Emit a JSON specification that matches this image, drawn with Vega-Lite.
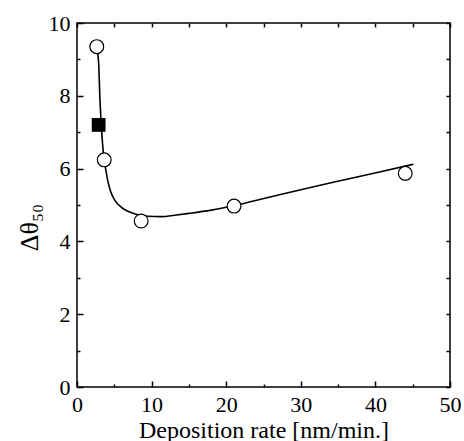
{
  "$schema": "https://vega.github.io/schema/vega-lite/v6.json",
  "autosize": {"type": "none"},
  "padding": {"left": 77, "top": 23, "right": 14, "bottom": 54},
  "width": 373,
  "height": 364,
  "background": "white",
  "config": {
    "view": {"stroke": "black", "strokeWidth": 1.5},
    "axis": {"labelFont": "Liberation Serif", "titleFont": "Liberation Serif", "labelColor": "black", "titleColor": "black", "tickColor": "black", "grid": false, "domain": false, "titleFontWeight": "normal", "tickWidth": 1.5}
  },
  "resolve": {"axis": {"x": "independent", "y": "independent"}},
  "layer": [
    {
      "data": {"values": [
        {"rate": 2.65, "d": 9.32}, {"rate": 2.9, "d": 8.9}, {"rate": 3.08, "d": 7.88}, {"rate": 3.35, "d": 6.9},
        {"rate": 3.66, "d": 6.2}, {"rate": 3.85, "d": 5.98}, {"rate": 4.1, "d": 5.69}, {"rate": 4.5, "d": 5.38},
        {"rate": 5.1, "d": 5.12}, {"rate": 6.0, "d": 4.93}, {"rate": 6.9, "d": 4.82}, {"rate": 8.2, "d": 4.73},
        {"rate": 9.5, "d": 4.69}, {"rate": 11.35, "d": 4.68}, {"rate": 13.1, "d": 4.72}, {"rate": 15, "d": 4.77},
        {"rate": 18, "d": 4.86}, {"rate": 21, "d": 4.98}, {"rate": 25.9, "d": 5.22}, {"rate": 30, "d": 5.42},
        {"rate": 34.2, "d": 5.62}, {"rate": 40.4, "d": 5.9}, {"rate": 45.1, "d": 6.12}
      ]},
      "mark": {"type": "line", "color": "black", "strokeWidth": 1.6, "interpolate": "monotone"},
      "encoding": {
        "x": {"field": "rate", "type": "quantitative", "scale": {"domain": [0, 50], "nice": false},
          "axis": {"orient": "bottom", "values": [0, 10, 20, 30, 40, 50], "tickSize": -6, "labelPadding": 13, "labelFontSize": 22, "title": "Deposition rate [nm/min.]", "titleFontSize": 24, "titleY": 50, "titleBaseline": "alphabetic", "labelFlush": false}},
        "y": {"field": "d", "type": "quantitative", "scale": {"domain": [0, 10], "nice": false},
          "axis": {"orient": "left", "values": [0, 2, 4, 6, 8, 10], "tickSize": -6, "labelPadding": 13, "labelFontSize": 22, "title": "Δθ₅₀", "titleFontSize": 26, "titlePadding": 6, "titleY": 204, "labelFlush": false}}
      }
    },
    {
      "data": {"values": [
        {"rate": 2.65, "d": 9.35}, {"rate": 3.65, "d": 6.24}, {"rate": 8.6, "d": 4.56}, {"rate": 21.05, "d": 4.97}, {"rate": 44.0, "d": 5.87}
      ]},
      "mark": {"type": "point", "shape": "circle", "filled": true, "fill": "white", "stroke": "black", "strokeWidth": 1.2, "size": 190, "opacity": 1},
      "encoding": {
        "x": {"field": "rate", "type": "quantitative", "scale": {"domain": [0, 50], "nice": false},
          "axis": {"orient": "bottom", "values": [5, 15, 25, 35, 45], "tickSize": -3, "labels": false, "title": null}},
        "y": {"field": "d", "type": "quantitative", "scale": {"domain": [0, 10], "nice": false},
          "axis": {"orient": "left", "values": [1, 3, 5, 7, 9], "tickSize": -3, "labels": false, "title": null}}
      }
    },
    {
      "data": {"values": [{"rate": 2.9, "d": 7.2}]},
      "mark": {"type": "square", "filled": true, "color": "black", "size": 190, "opacity": 1},
      "encoding": {
        "x": {"field": "rate", "type": "quantitative", "scale": {"domain": [0, 50], "nice": false},
          "axis": {"orient": "top", "values": [0, 5, 10, 15, 20, 25, 30, 35, 40, 45, 50], "tickSize": -4, "labels": false, "title": null}},
        "y": {"field": "d", "type": "quantitative", "scale": {"domain": [0, 10], "nice": false},
          "axis": {"orient": "right", "values": [0, 1, 2, 3, 4, 5, 6, 7, 8, 9, 10], "tickSize": -4, "labels": false, "title": null}}
      }
    }
  ]
}
